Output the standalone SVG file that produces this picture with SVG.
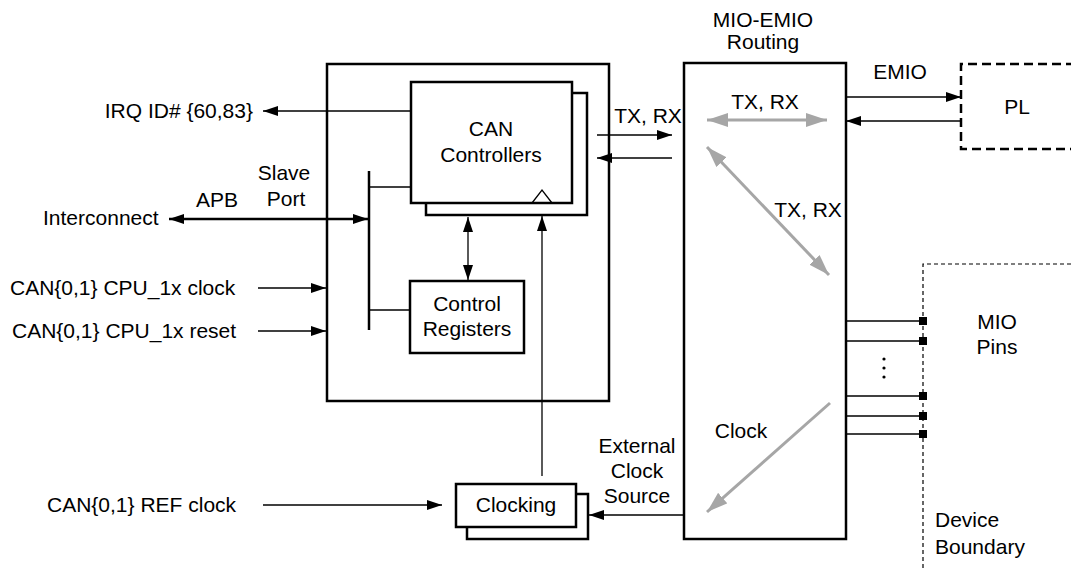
<svg xmlns="http://www.w3.org/2000/svg" width="1071" height="569" viewBox="0 0 1071 569">
<style>
text{font-family:"Liberation Sans",Arial,sans-serif;font-size:21px;fill:#000}
.m{text-anchor:middle}
.e{text-anchor:end}
.box{fill:#fff;stroke:#000;stroke-width:2.5}
.ln{stroke:#000;stroke-width:1.3;fill:none}
.thick{stroke:#000;stroke-width:2.5;fill:none}
.grey{stroke:#a6a6a6;stroke-width:3;fill:none}
</style>
<defs>
<marker id="ah" markerUnits="userSpaceOnUse" markerWidth="15" markerHeight="10" refX="15" refY="5" orient="auto-start-reverse"><path d="M0,0 L15,5 L0,10 z" fill="#000"/></marker>
<marker id="gh" markerUnits="userSpaceOnUse" markerWidth="21" markerHeight="14" refX="21" refY="7" orient="auto-start-reverse"><path d="M0,0 L21,7 L0,14 z" fill="#a6a6a6"/></marker>
</defs>

<g id="can-module"><rect class="box" x="327" y="64" width="282" height="337"/></g>
<g id="can-controllers">
<rect class="box" x="426" y="93" width="161" height="122"/>
<rect class="box" x="411" y="82" width="161" height="121"/>
<polyline class="ln" points="532,203 542,190 552,203"/>
<text class="m" x="491" y="136">CAN</text>
<text class="m" x="491" y="162">Controllers</text>
</g>
<g id="control-registers">
<rect class="box" x="410" y="281" width="114" height="72"/>
<text class="m" x="467" y="311">Control</text>
<text class="m" x="467" y="336">Registers</text>
</g>
<g id="clocking">
<rect class="box" x="467" y="494" width="121" height="45"/>
<rect class="box" x="456" y="484" width="120" height="43"/>
<text class="m" x="516" y="512">Clocking</text>
</g>
<g id="routing">
<rect class="box" x="684" y="63" width="162" height="476"/>
<text class="m" x="763" y="27">MIO-EMIO</text>
<text class="m" x="763" y="49">Routing</text>
</g>
<g id="pl">
<path d="M1075,64 H961 V149 H1075" fill="none" stroke="#000" stroke-width="2.5" stroke-dasharray="9,5"/>
<text class="m" x="1017" y="114">PL</text>
</g>
<g id="device-boundary">
<path d="M1071,264 H923 V569" fill="none" stroke="#000" stroke-width="1.2" stroke-dasharray="4,3"/>
<text class="m" x="997" y="329">MIO</text>
<text class="m" x="997" y="354">Pins</text>
<text x="935" y="527">Device</text>
<text x="935" y="554">Boundary</text>
</g>

<g id="connectors">
<line class="ln" x1="411" y1="111" x2="263" y2="111" marker-end="url(#ah)"/>
<line class="thick" x1="169" y1="219" x2="368" y2="219" marker-start="url(#ah)" marker-end="url(#ah)"/>
<line class="thick" x1="369" y1="171" x2="369" y2="330"/>
<line class="ln" x1="369" y1="187" x2="411" y2="187"/>
<line class="ln" x1="369" y1="310" x2="410" y2="310"/>
<line class="ln" x1="258" y1="288" x2="326" y2="288" marker-end="url(#ah)"/>
<line class="ln" x1="258" y1="331" x2="326" y2="331" marker-end="url(#ah)"/>
<line class="ln" x1="263" y1="505" x2="442" y2="505" marker-end="url(#ah)"/>
<line class="ln" x1="542" y1="476" x2="542" y2="216" marker-end="url(#ah)"/>
<line class="ln" x1="468" y1="217" x2="468" y2="280" marker-start="url(#ah)" marker-end="url(#ah)"/>
<line class="ln" x1="597" y1="135" x2="672" y2="135" marker-end="url(#ah)"/>
<line class="ln" x1="672" y1="158" x2="597" y2="158" marker-end="url(#ah)"/>
<line class="ln" x1="684" y1="515" x2="589" y2="515" marker-end="url(#ah)"/>
<line class="ln" x1="846" y1="97" x2="961" y2="97" marker-end="url(#ah)"/>
<line class="ln" x1="961" y1="121" x2="846" y2="121" marker-end="url(#ah)"/>
<line class="grey" x1="707" y1="120" x2="827" y2="120" marker-start="url(#gh)" marker-end="url(#gh)"/>
<line class="grey" x1="707" y1="147" x2="829" y2="275" marker-start="url(#gh)" marker-end="url(#gh)"/>
<line class="grey" x1="830" y1="403" x2="707" y2="512" marker-end="url(#gh)"/>
<line class="ln" x1="846" y1="321" x2="923" y2="321"/>
<line class="ln" x1="846" y1="341" x2="923" y2="341"/>
<line class="ln" x1="846" y1="396" x2="923" y2="396"/>
<line class="ln" x1="846" y1="416" x2="923" y2="416"/>
<line class="ln" x1="846" y1="434" x2="923" y2="434"/>
<rect x="919" y="317" width="8" height="8"/>
<rect x="919" y="337" width="8" height="8"/>
<rect x="919" y="392" width="8" height="8"/>
<rect x="919" y="412" width="8" height="8"/>
<rect x="919" y="430" width="8" height="8"/>
<circle cx="884" cy="359" r="1.6"/>
<circle cx="884" cy="368" r="1.6"/>
<circle cx="884" cy="377" r="1.6"/>
</g>

<g id="labels">
<text class="e" x="253" y="118">IRQ ID# {60,83}</text>
<text class="m" x="284" y="180">Slave</text>
<text class="m" x="286" y="206">Port</text>
<text x="196" y="207">APB</text>
<text x="43" y="225">Interconnect</text>
<text x="10" y="295">CAN{0,1} CPU_1x clock</text>
<text x="12" y="338">CAN{0,1} CPU_1x reset</text>
<text x="47" y="512">CAN{0,1} REF clock</text>
<text class="m" x="648" y="123">TX, RX</text>
<text class="m" x="765" y="109">TX, RX</text>
<text class="m" x="808" y="217">TX, RX</text>
<text class="m" x="741" y="438">Clock</text>
<text class="m" x="900" y="79">EMIO</text>
<text class="m" x="637" y="453">External</text>
<text class="m" x="637" y="478">Clock</text>
<text class="m" x="637" y="503">Source</text>
</g>
</svg>
